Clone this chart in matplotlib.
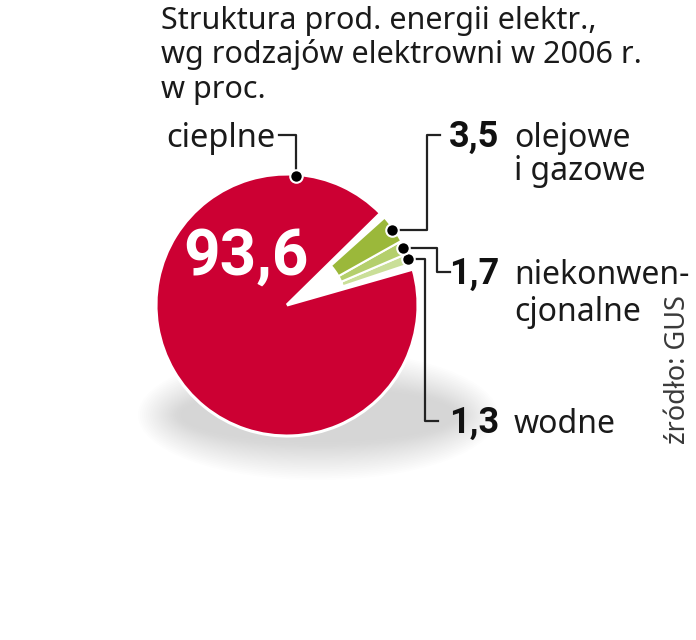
import matplotlib
matplotlib.use("Agg")
import matplotlib.pyplot as plt
from matplotlib.patches import Ellipse
import numpy as np

plt.rcParams['font.family'] = ['Noto Sans', 'DejaVu Sans']

W, H = 696, 640

# data
title_lines = ["Struktura prod. energii elektr.,",
               "wg rodzajów elektrowni w 2006 r.",
               "w proc."]
categories = ["wodne", "niekonwen-\ncjonalne", "olejowe\ni gazowe", "cieplne"]
values = [1.3, 1.7, 3.5, 93.6]
value_labels = ["1,3", "1,7", "3,5", "93,6"]
colors = ["#cadf98", "#b4cf6c", "#9bb83a", "#cc0033"]
source = "źródło: GUS"

# layout (pixels, y measured from top)
cx, cy, R = 287, 305, 131
start = 18.5
bold_font = ['Roboto', 'DejaVu Sans']


def Y(y):
    return H - y


fig = plt.figure(figsize=(W / 100, H / 100), dpi=100)
ax = fig.add_axes([0, 0, 1, 1])

# soft shadow under the pie
n = 22
for i in range(n):
    k = 1 - i / n
    ax.add_patch(Ellipse((318, Y(415)), 270 + 90 * k, 50 + 80 * k,
                         color="#9a9a9a", alpha=0.017, lw=0, zorder=0))

wedges, _ = ax.pie(values, colors=colors, startangle=start, radius=R,
                   center=(cx, Y(cy)),
                   wedgeprops=dict(edgecolor="white", linewidth=1.5))
for w in wedges[:3]:
    w.set_width(R * 0.55)
    w.set_zorder(3)
red = wedges[3]
red.set_theta1(red.theta1 + 2.6)
red.set_theta2(red.theta2 - 2.6)
red.set_linewidth(2.2)

ax.set_xlim(0, W)
ax.set_ylim(0, H)
ax.set_aspect("equal")
ax.axis("off")

txt = "#1a1a1a"

# title
for i, line in enumerate(title_lines):
    ax.text(161, Y(29 + i * 34.5), line, fontsize=22, color=txt,
            va="baseline", ha="left")

lc = "#222222"
lw = 1.6


def dot_at(angle):
    a = np.deg2rad(angle)
    return cx + (R - 2) * np.cos(a), cy - (R - 2) * np.sin(a)


# cieplne
dx, dy = dot_at(86)
ax.plot([dx, dx, 279], [Y(dy), Y(135), Y(135)], color=lc, lw=lw, zorder=4)
ax.plot(dx, Y(dy), "o", ms=9, mfc="black", mec="white", mew=1.5, zorder=5)
ax.text(276, Y(147), categories[3], fontsize=23.5, color=txt,
        ha="right", va="baseline")
ax.text(246, Y(257), value_labels[3], fontsize=46, fontweight="bold",
        family=bold_font, color="white", ha="center", va="center", zorder=6)

# small slices: bend x, label y, gap between name lines
bend_x = [425, 437, 427]
label_y = [421, 272, 135]
line_gap = [0, 37, 33]
for i in range(3):
    w = wedges[i]
    mid = (w.theta1 + w.theta2) / 2
    dx, dy = dot_at(mid)
    ax.plot([dx, bend_x[i], bend_x[i], bend_x[i] + 13],
            [Y(dy), Y(dy), Y(label_y[i]), Y(label_y[i])],
            color=lc, lw=lw, zorder=4)
    ax.plot(dx, Y(dy), "o", ms=9, mfc="black", mec="white", mew=1.5, zorder=5)
    ax.text(449, Y(label_y[i] + 12), value_labels[i], fontsize=26,
            fontweight="bold", family=bold_font, color="#111111",
            ha="left", va="baseline")
    for j, part in enumerate(categories[i].split("\n")):
        ax.text(514, Y(label_y[i] + 12 + j * line_gap[i]), part, fontsize=23,
                color=txt, ha="left", va="baseline")

ax.text(678, Y(370), source, fontsize=19.5, color="#3a3a3a", rotation=90,
        ha="center", va="center", fontweight="light")

fig.savefig("out.png", dpi=100)
